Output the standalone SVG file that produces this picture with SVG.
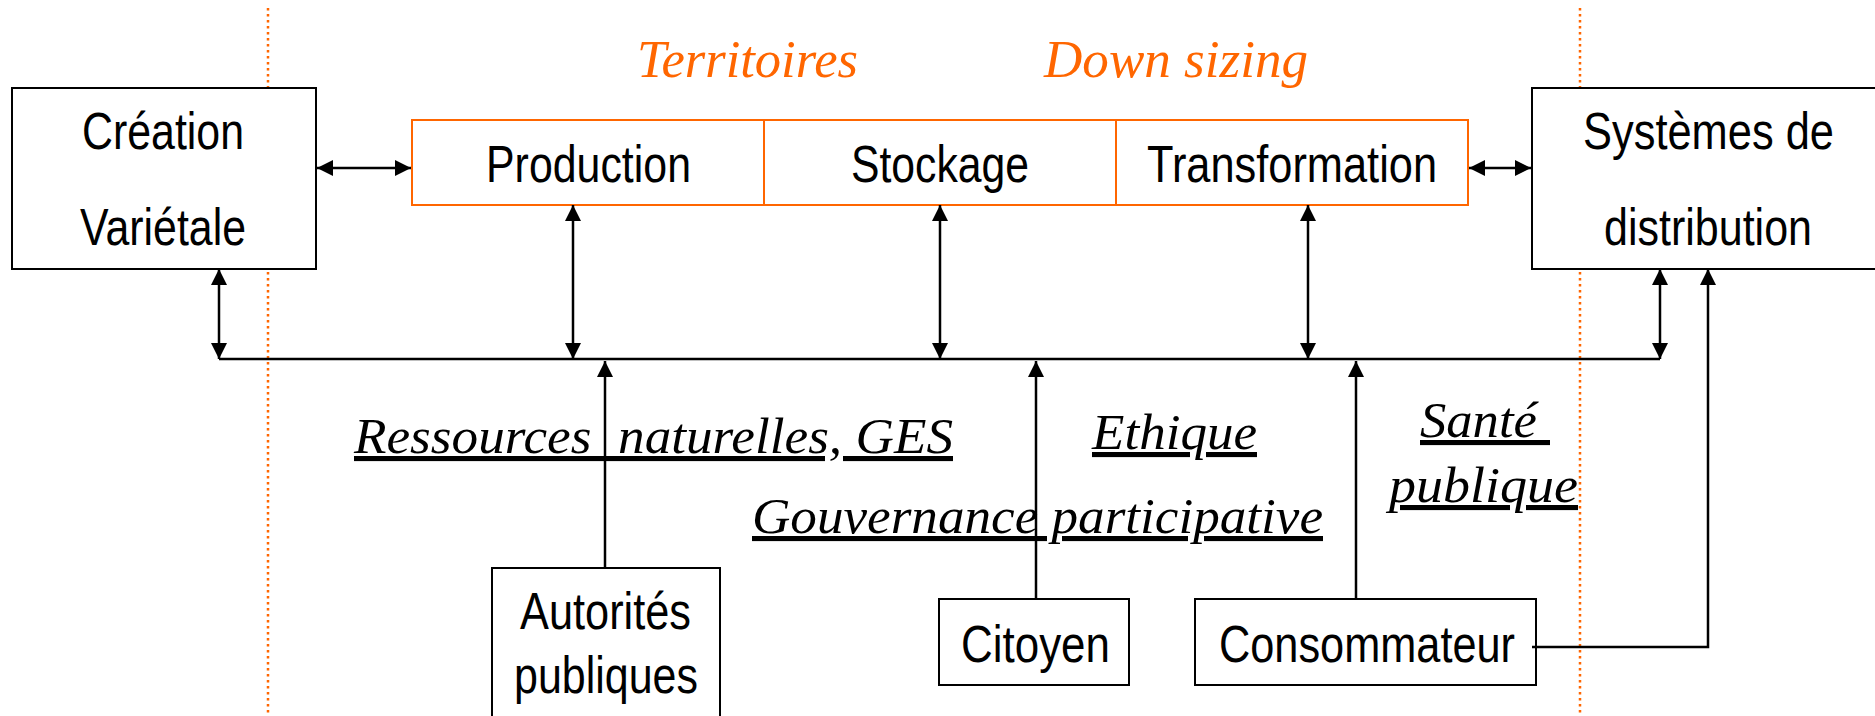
<svg xmlns="http://www.w3.org/2000/svg" width="1875" height="716" viewBox="0 0 1875 716">
<style>
.box{fill:#fff;stroke:#000;stroke-width:2}
.obox{fill:#fff;stroke:#FF6600;stroke-width:2}
.sans{font-family:"Liberation Sans Narrow","Liberation Sans",Arial,sans-serif;font-size:52px;fill:#000}
.ital{font-family:"Liberation Serif","Times New Roman",serif;font-style:italic;font-size:51px;fill:#000;text-decoration:underline}
.otit{font-family:"Liberation Serif","Times New Roman",serif;font-style:italic;font-size:52px;fill:#FF6600}
.con{fill:none;stroke:#000;stroke-width:2.5}
.dot{fill:none;stroke:#FF6600;stroke-width:2.5;stroke-dasharray:2.5 3.5}
</style>
<defs>
<marker id="ah" viewBox="0 0 16 16" refX="16" refY="8" markerWidth="16" markerHeight="16" markerUnits="userSpaceOnUse" orient="auto-start-reverse">
<path d="M0,0 L16,8 L0,16 z" fill="#000"/>
</marker>
</defs>
<rect width="1875" height="716" fill="#fff"/>

<g id="guides">
<line class="dot" x1="268" y1="8" x2="268" y2="716"/>
<line class="dot" x1="1580" y1="8" x2="1580" y2="716"/>
</g>

<g id="titles">
<text class="otit" x="637" y="77" textLength="221" lengthAdjust="spacingAndGlyphs">Territoires</text>
<text class="otit" x="1044" y="77" textLength="264" lengthAdjust="spacingAndGlyphs">Down sizing</text>
</g>

<g id="creation">
<rect class="box" x="12" y="88" width="304" height="181"/>
<text class="sans" x="82" y="149" textLength="162" lengthAdjust="spacingAndGlyphs">Création</text>
<text class="sans" x="80" y="245" textLength="166" lengthAdjust="spacingAndGlyphs">Variétale</text>
</g>

<g id="chaine">
<rect class="obox" x="412" y="120" width="1056" height="85"/>
<line x1="764" y1="120" x2="764" y2="205" stroke="#FF6600" stroke-width="2"/>
<line x1="1116" y1="120" x2="1116" y2="205" stroke="#FF6600" stroke-width="2"/>
</g>
<g id="production">
<text class="sans" x="486" y="182" textLength="205" lengthAdjust="spacingAndGlyphs">Production</text>
</g>
<g id="stockage">
<text class="sans" x="851" y="182" textLength="178" lengthAdjust="spacingAndGlyphs">Stockage</text>
</g>
<g id="transformation">
<text class="sans" x="1147" y="182" textLength="290" lengthAdjust="spacingAndGlyphs">Transformation</text>
</g>

<g id="distribution">
<rect class="box" x="1532" y="88" width="360" height="181"/>
<text class="sans" x="1583" y="149" textLength="251" lengthAdjust="spacingAndGlyphs">Systèmes de</text>
<text class="sans" x="1604" y="245" textLength="208" lengthAdjust="spacingAndGlyphs">distribution</text>
</g>

<g id="autorites">
<rect class="box" x="492" y="568" width="228" height="160"/>
<text class="sans" x="520" y="629" textLength="171" lengthAdjust="spacingAndGlyphs">Autorités</text>
<text class="sans" x="514" y="693" textLength="184" lengthAdjust="spacingAndGlyphs">publiques</text>
</g>

<g id="citoyen">
<rect class="box" x="939" y="599" width="190" height="86"/>
<text class="sans" x="961" y="662" textLength="149" lengthAdjust="spacingAndGlyphs">Citoyen</text>
</g>

<g id="consommateur">
<rect class="box" x="1195" y="599" width="341" height="86"/>
<text class="sans" x="1219" y="662" textLength="296" lengthAdjust="spacingAndGlyphs">Consommateur</text>
</g>

<g id="labels">
<text class="ital" x="354" y="453" textLength="599" lengthAdjust="spacingAndGlyphs" xml:space="preserve">Ressources  naturelles, GES</text>
<text class="ital" x="1092" y="449" textLength="165" lengthAdjust="spacingAndGlyphs">Ethique</text>
<text class="ital" x="752" y="533" textLength="571" lengthAdjust="spacingAndGlyphs">Gouvernance participative</text>
<text class="ital" x="1420" y="437" textLength="130" lengthAdjust="spacingAndGlyphs" xml:space="preserve">Santé </text>
<text class="ital" x="1389" y="502" textLength="189" lengthAdjust="spacingAndGlyphs">publique</text>
</g>

<g id="connectors">
<line class="con" x1="317" y1="168" x2="411" y2="168" marker-start="url(#ah)" marker-end="url(#ah)"/>
<line class="con" x1="1469" y1="168" x2="1531" y2="168" marker-start="url(#ah)" marker-end="url(#ah)"/>
<line class="con" x1="219" y1="359" x2="1660" y2="359"/>
<line class="con" x1="219" y1="269" x2="219" y2="359" marker-start="url(#ah)" marker-end="url(#ah)"/>
<line class="con" x1="573" y1="205" x2="573" y2="359" marker-start="url(#ah)" marker-end="url(#ah)"/>
<line class="con" x1="940" y1="205" x2="940" y2="359" marker-start="url(#ah)" marker-end="url(#ah)"/>
<line class="con" x1="1308" y1="205" x2="1308" y2="359" marker-start="url(#ah)" marker-end="url(#ah)"/>
<line class="con" x1="1660" y1="269" x2="1660" y2="359" marker-start="url(#ah)" marker-end="url(#ah)"/>
<line class="con" x1="605" y1="568" x2="605" y2="361" marker-end="url(#ah)"/>
<line class="con" x1="1036" y1="599" x2="1036" y2="361" marker-end="url(#ah)"/>
<line class="con" x1="1356" y1="599" x2="1356" y2="361" marker-end="url(#ah)"/>
<polyline class="con" points="1532,647 1708,647 1708,269" marker-end="url(#ah)"/>
</g>
</svg>
